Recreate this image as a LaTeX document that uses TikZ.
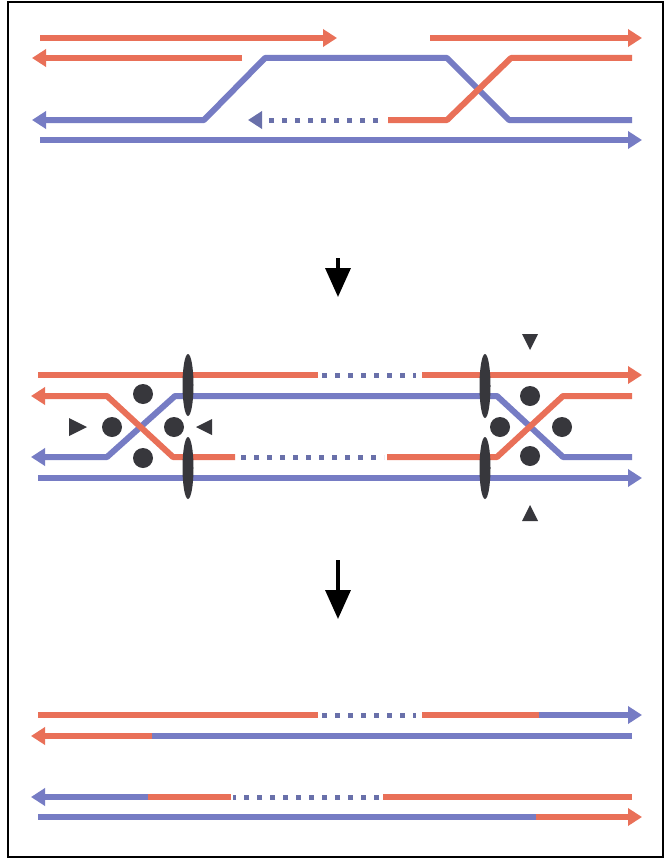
\documentclass[tikz,border=0pt]{standalone}
\usetikzlibrary{arrows.meta}
\definecolor{strandred}{RGB}{233,112,88}
\definecolor{strandblue}{RGB}{118,124,196}
\definecolor{gapblue}{RGB}{105,112,170}
\definecolor{protein}{RGB}{55,55,60}
\tikzset{
  strand/.style={line width=6pt, line join=round},
  red/.style={strand, draw=strandred},
  blue/.style={strand, draw=strandblue},
  tipped/.style={-{Triangle[length=14pt,width=17pt]}},
  gap/.style={draw=gapblue, line width=5pt, dash pattern=on 5pt off 8pt},
  stepdown/.style={draw=black, line width=3.5pt, -{Triangle[length=29pt,width=25pt]}},
  clamp/.style={fill=protein, draw=none},
  blob/.style={circle, fill=protein, minimum size=20pt, inner sep=0pt},
}
\begin{document}
\begin{tikzpicture}[x=1pt,y=-1pt]
\useasboundingbox (0,0) rectangle (665,859);
\fill[white] (0,0) rectangle (665,859);
\draw[line width=2pt] (8,2) rectangle (663,857);

% ---- first stage: broken strand and invading end ----
\draw[red,tipped] (40,38) -- (337,38);
\draw[red,tipped] (430,38) -- (642,38);
\draw[red,tipped] (242,58) -- (32,58);
\draw[blue,tipped] (632,120) -- (509,120) -- (447,58) -- (265,58) -- (204,120) -- (32,120);
\draw[gap,tipped] (378,120) -- (248,120);
\draw[blue,tipped] (40,140) -- (642,140);
\draw[red] (388,120) -- (447,120) -- (511,58) -- (632,58);

% ---- step arrows ----
\coordinate (s1a) at (338,258); \coordinate (s1b) at (338,297);
\coordinate (s2a) at (338,560); \coordinate (s2b) at (338,619);
\draw[stepdown] (s1a) -- (s1b);
\draw[stepdown] (s2a) -- (s2b);

% ---- second stage: double Holliday junction ----
\draw[red] (38,375) -- (318,375);
\draw[gap] (322,375) -- (416,375);
\draw[red,tipped] (422,375) -- (642,375);
\draw[blue,tipped] (632,457) -- (563,457) -- (497,396) -- (175,396) -- (107,457) -- (31,457);
\draw[blue,tipped] (38,478) -- (642,478);
\draw[red,tipped] (235,457) -- (173,457) -- (107,396) -- (31,396);
\draw[gap] (241,457) -- (384,457);
\draw[red] (387,457) -- (497,457) -- (563,396) -- (632,396);

% clamps across the duplex
\fill[clamp] (188,385) ellipse (5.5pt and 31pt);
\fill[clamp] (188,468) ellipse (5.5pt and 31pt);
\fill[clamp] (485,386) ellipse (5.5pt and 32pt);
\fill[clamp] (485,468) ellipse (5.5pt and 31pt);

% proteins around the junctions
\node[blob] (la) at (143,394) {};
\node[blob] (lb) at (112,427) {};
\node[blob] (lc) at (174,427) {};
\node[blob] (ld) at (143,458) {};
\node[blob] (ra) at (530,396) {};
\node[blob] (rb) at (500,427) {};
\node[blob] (rc) at (562,427) {};
\node[blob] (rd) at (530,456) {};

% cleavage sites
\fill[protein] (69,418) -- (87,427) -- (69,436) -- cycle;
\fill[protein] (212,419) -- (196,427) -- (212,435) -- cycle;
\fill[protein] (522,334) -- (538,334) -- (530,350) -- cycle;
\fill[protein] (522,521) -- (538,521) -- (530,505) -- cycle;

% ---- third stage: resolved products ----
\draw[red] (38,715) -- (318,715);
\draw[gap] (322,715) -- (416,715);
\draw[red] (422,715) -- (541,715);
\draw[blue,tipped] (539,715) -- (642,715);

\draw[blue] (632,736) -- (148,736);
\draw[red,tipped] (152,736) -- (31,736);

\draw[red] (632,797) -- (383,797);
\draw[gap] (379,797) -- (233,797);
\draw[red] (231,797) -- (144,797);
\draw[blue,tipped] (148,797) -- (31,797);

\draw[blue] (38,817) -- (538,817);
\draw[red,tipped] (536,817) -- (642,817);
\end{tikzpicture}
\end{document}
